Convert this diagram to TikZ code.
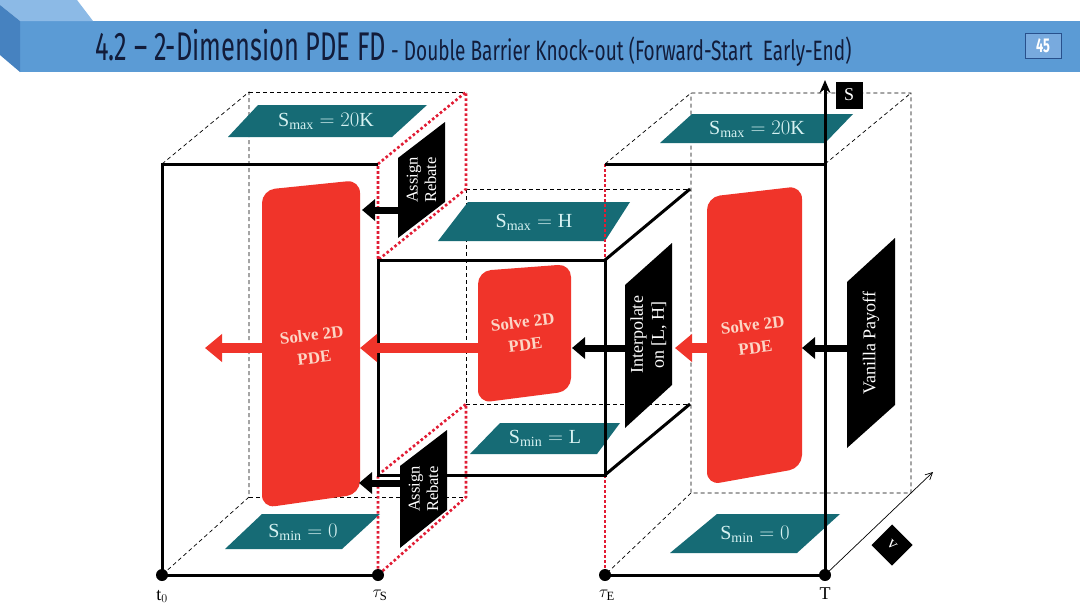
\documentclass[tikz,border=0pt]{standalone}
\usepackage{fontspec}
\setmainfont{Liberation Serif}
\newfontfamily\titlefont[FakeStretch=0.635]{Fira Sans}
\newfontfamily\subtitlefont[FakeStretch=0.68]{Fira Sans}
\usetikzlibrary{arrows.meta}
\definecolor{hdr}{RGB}{91,155,213}
\definecolor{hdrtop}{RGB}{140,186,230}
\definecolor{hdrside}{RGB}{70,130,192}
\definecolor{hdrbox}{RGB}{120,170,222}
\definecolor{hdrboxline}{RGB}{40,80,140}
\definecolor{titlec}{RGB}{18,28,58}
\definecolor{tealc}{RGB}{22,107,117}
\definecolor{tealt}{RGB}{215,242,242}
\definecolor{redc}{RGB}{240,52,42}
\definecolor{redt}{RGB}{252,214,198}
\definecolor{dotred}{RGB}{225,28,52}
\begin{document}
\begin{tikzpicture}[x=1pt,y=-1pt,
  solid3/.style={line width=3pt},
  dashl/.style={line width=0.7pt, dash pattern=on 4pt off 3pt},
  reddot/.style={dotred, line width=2.6pt, dash pattern=on 2.6pt off 2.4pt},
  tealtext/.style={text=tealt, font=\fontsize{20}{22}\selectfont, inner sep=0pt},
  blktext/.style={text=white, rotate=90, align=center, inner sep=0pt},
  redshape/.style={fill=redc, rounded corners=13pt},
  solvetext/.style={text=redt, font=\bfseries\fontsize{17}{23}\selectfont, align=center, rotate=7, inner sep=0pt},
  blkarrow/.style={line width=7pt, -{Triangle[length=13pt,width=21pt]}},
  redarrow/.style={redc, line width=10pt, -{Triangle[length=17pt,width=27pt]}},
  dot/.style={circle, fill=black, inner sep=0pt, minimum size=12pt},
  axlabel/.style={font=\fontsize{18}{18}\selectfont, inner sep=0pt}
]
\useasboundingbox (0,0) rectangle (1080,608);
\fill[white] (0,0) rectangle (1080,608);

% ---------- header ----------
\fill[hdr] (20,21) rectangle (1080,72);
\fill[hdrtop] (0,0) -- (77,0) -- (93,21) -- (20,21) -- (0,5) -- cycle;
\fill[hdrside] (0,5) -- (20,21) -- (20,72) -- (0,55) -- cycle;
\node[anchor=base west, inner sep=0pt, text=titlec, font=\titlefont\fontsize{40}{40}\selectfont] (title) at (95,60) {4.2 – 2-Dimension PDE FD};
\node[anchor=base west, inner sep=0pt, text=titlec, font=\subtitlefont\fontsize{28}{28}\selectfont] (subtitle) at (391,60) {- Double Barrier Knock-out (Forward-Start~~Early-End)};
\node[fill=hdrbox, draw=hdrboxline, line width=0.8pt, minimum width=36pt, minimum height=25pt, inner sep=0pt, text=white, font=\titlefont\bfseries\fontsize{20}{20}\selectfont] (page) at (1043,46) {45};

% ---------- coordinates ----------
\coordinate (A0) at (162,164); \coordinate (A1) at (378,164);
\coordinate (A2) at (378,575); \coordinate (A3) at (162,575);
\coordinate (B0) at (249,92);  \coordinate (B1) at (466,92);
\coordinate (B2) at (466,497); \coordinate (B3) at (249,497);
\coordinate (M0) at (378,260); \coordinate (M1) at (605,260);
\coordinate (M2) at (605,475); \coordinate (M3) at (378,475);
\coordinate (N0) at (466,189); \coordinate (N1) at (690,189);
\coordinate (N2) at (690,404); \coordinate (N3) at (466,404);
\coordinate (R0) at (605,164); \coordinate (R1) at (825,164);
\coordinate (R2) at (825,575); \coordinate (R3) at (605,575);
\coordinate (Q0) at (691,93);  \coordinate (Q1) at (911,93);
\coordinate (Q2) at (911,493); \coordinate (Q3) at (691,493);
\coordinate (Stop) at (825,80);
\coordinate (Vtip) at (933,472);

% ---------- dashed hidden edges ----------
\draw[dashl] (A0) -- (B0) -- (B3) -- (A3);
\draw[dashl] (B0) -- (B1);
\draw[dashl] (B3) -- (B2);
\draw[dashl] (N0) -- (N1);
\draw[dashl] (N3) -- (N2);
\draw[dashl] (N0) -- (N3);
\draw[dashl] (R0) -- (Q0) -- (Q1) -- (Q2) -- (Q3) -- (Q0);
\draw[dashl] (Q3) -- (R3);
\draw[dashl] (R1) -- (Q1);

% ---------- teal planes ----------
\fill[tealc] (228,137) -- (258,105) -- (427,105) -- (392,137) -- cycle;
\node[tealtext] (smaxL) at (326,121) {$\mathrm{S}_{\mathrm{max}} = 20\mathrm{K}$};
\fill[tealc] (225,549) -- (262,514) -- (380,514) -- (342,549) -- cycle;
\node[tealtext] (sminL) at (303,532) {$\mathrm{S}_{\mathrm{min}} = 0$};
\fill[tealc] (438,241) -- (468,202) -- (630,202) -- (605,241) -- cycle;
\node[tealtext] (smaxM) at (534,222) {$\mathrm{S}_{\mathrm{max}} = \mathrm{H}$};
\fill[tealc] (470,454) -- (500,423) -- (620,423) -- (597,454) -- cycle;
\node[tealtext] (sminM) at (545,438) {$\mathrm{S}_{\mathrm{min}} = \mathrm{L}$};
\fill[tealc] (660,143) -- (692,114) -- (853,114) -- (825,143) -- cycle;
\node[tealtext] (smaxR) at (757,129) {$\mathrm{S}_{\mathrm{max}} = 20\mathrm{K}$};
\fill[tealc] (670,553) -- (717,514) -- (840,514) -- (797,553) -- cycle;
\node[tealtext] (sminR) at (755,534) {$\mathrm{S}_{\mathrm{min}} = 0$};

% ---------- red PDE panels ----------
\fill[redshape] (262,190) -- (360,180) -- (360,494) -- (262,508) -- cycle;
\node[solvetext] (solveL) at (313,346) {Solve 2D\\PDE};
\fill[redshape] (478,271) -- (571,264) -- (571,391) -- (478,403) -- cycle;
\node[solvetext] (solveM) at (524,333) {Solve 2D\\PDE};
\fill[redshape] (707,197) -- (802,186) -- (802,468) -- (707,485) -- cycle;
\node[solvetext] (solveR) at (754,336) {Solve 2D\\PDE};
\coordinate (solveLl) at (262,348); \coordinate (solveLr) at (362,210);
\coordinate (solveLrb) at (359,483); \coordinate (solveLin) at (360,348);
\coordinate (solveMl) at (478,348); \coordinate (solveMr) at (572,348);
\coordinate (solveRl) at (707,348); \coordinate (solveRr) at (802,348);
\coordinate (leftout) at (205,348); \coordinate (midin) at (675,348);

% ---------- red dotted barrier faces ----------
\draw[reddot] (A1) -- (B1) -- (N0) -- (M0) -- cycle;
\draw[reddot] (M3) -- (N3) -- (B2) -- (A2) -- cycle;
\draw[reddot] (R0) -- (M1);
\draw[reddot] (M2) -- (R3);

% ---------- solid edges ----------
\draw[solid3] (A1) -- (A0) -- (A3) -- (A2);
\draw[solid3] (M0) -- (M1) -- (M2) -- (M3) -- cycle;
\draw[solid3] (M1) -- (N1);
\draw[solid3] (M2) -- (N2);
\draw[solid3] (R0) -- (R1);
\draw[solid3] (R3) -- (R2);
\draw[solid3, -{Stealth[length=13pt,width=11pt]}] (R2) -- (Stop);
\draw[line width=0.7pt, -{Straight Barb[length=7pt,width=7pt]}] (R2) -- (Vtip);

% ---------- black input panels ----------
\fill[black] (398,158) -- (445,122) -- (445,202) -- (398,238) -- cycle;
\node[blktext, font=\fontsize{16.5}{18.5}\selectfont] (rebU) at (421.5,180) {Assign\\Rebate};
\fill[black] (400,466) -- (447,430) -- (447,510) -- (400,548) -- cycle;
\node[blktext, font=\fontsize{16.5}{18.5}\selectfont] (rebL) at (423.5,489) {Assign\\Rebate};
\fill[black] (625,285) -- (672,243) -- (672,385) -- (625,428) -- cycle;
\node[blktext, font=\fontsize{18}{21}\selectfont] (interp) at (648.5,335) {Interpolate\\on [L, H]};
\fill[black] (847,282) -- (895,238) -- (895,405) -- (847,448) -- cycle;
\node[blktext, font=\fontsize{18}{21}\selectfont] (vanilla) at (871,343) {Vanilla Payoff};
\coordinate (rebUo) at (398,210); \coordinate (rebLo) at (400,483);
\coordinate (interpo) at (625,348); \coordinate (vanillao) at (847,348);

% ---------- arrows ----------
\draw[blkarrow] (rebUo) -- (solveLr);
\draw[blkarrow] (rebLo) -- (solveLrb);
\draw[blkarrow] (interpo) -- (solveMr);
\draw[blkarrow] (vanillao) -- (solveRr);
\draw[redarrow] (solveLl) -- (leftout);
\draw[redarrow] (solveMl) -- (solveLin);
\draw[redarrow] (solveRl) -- (midin);

% ---------- time points and axis labels ----------
\node[dot] (d0) at (A3) {};
\node[dot] (d1) at (A2) {};
\node[dot] (d2) at (R3) {};
\node[dot] (d3) at (R2) {};
\node[axlabel, anchor=north] (lt0) at (162,590) {$\mathrm{t}_0$};
\node[axlabel, anchor=north] (ltS) at (380,590) {$\tau_{\mathrm{S}}$};
\node[axlabel, anchor=north] (ltE) at (607,590) {$\tau_{\mathrm{E}}$};
\node[axlabel, anchor=north] (lT) at (825,588) {T};
\node[fill=black, text=white, minimum size=27pt, inner sep=0pt, font=\fontsize{18}{18}\selectfont] (Slab) at (849,95) {S};
\node[fill=black, text=white, minimum size=29pt, inner sep=0pt, rotate=-45, font=\fontsize{17}{17}\selectfont] (vlab) at (892,545) {v};
\end{tikzpicture}
\end{document}
